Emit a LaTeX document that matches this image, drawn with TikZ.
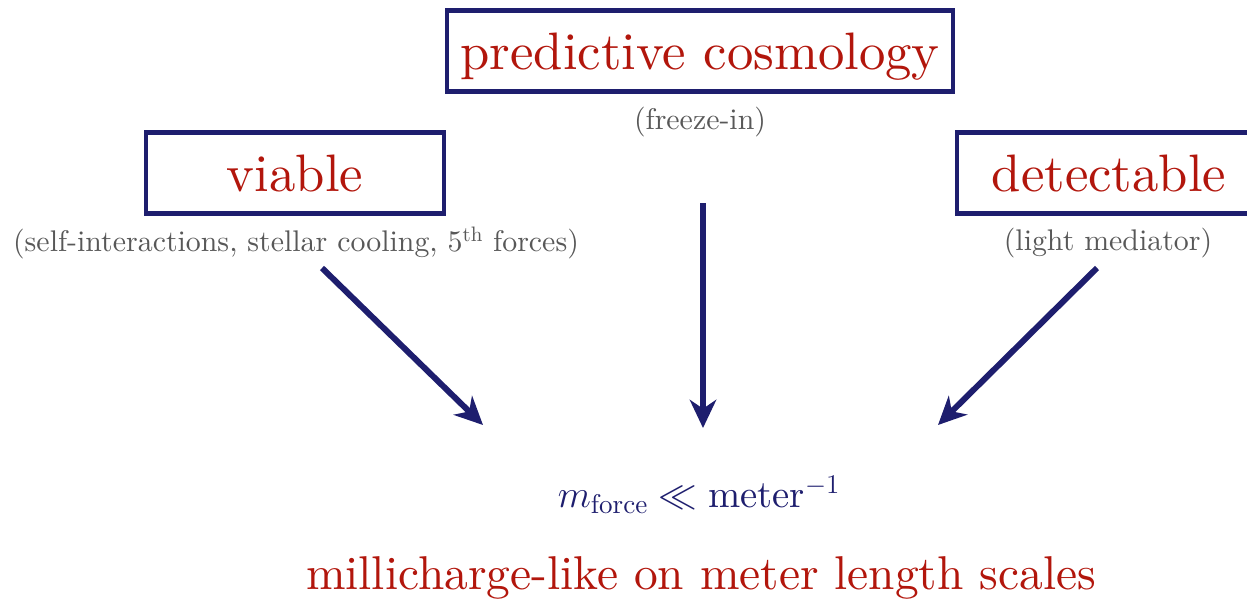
\RequirePackage{fix-cm}
\documentclass[tikz,border=0pt]{standalone}
\usepackage{amsmath,amssymb}
\usepackage{fontspec}
\setmainfont{lmroman10-regular.otf}
\usetikzlibrary{positioning,arrows.meta}
\definecolor{BoxNavy}{RGB}{30,30,110}
\definecolor{TitleRed}{RGB}{178,22,12}
\definecolor{NoteGray}{RGB}{88,88,88}

\begin{document}
\begin{tikzpicture}[
x=0.02cm,y=-0.02cm,
box/.style={draw=BoxNavy,line width=2.3pt,text=TitleRed,minimum height=1.62cm,font=\fontsize{30}{34}\selectfont,text height=23pt,text depth=2.4pt,inner sep=0pt},
note/.style={text=NoteGray,font=\fontsize{17}{20}\selectfont,inner sep=0pt},
arr/.style={draw=BoxNavy,line width=3.4pt,-{Stealth[length=16pt,width=15pt,inset=5pt]}}
]
\useasboundingbox (0,0) rectangle (1247,605);
\node[box,minimum width=10.14cm] (cosmo) at (700,51) {predictive cosmology};
\node[note] (freeze) at (700,122) {(freeze-in)};
\node[box,minimum width=5.98cm] (viable) at (295,173) {viable};
\node[note] (bounds) at (296,243) {(self-interactions, stellar cooling, 5\textsuperscript{th} forces)};
\node[box,minimum width=6.08cm] (detect) at (1109,173) {detectable};
\node[note] (light) at (1108,243) {(light mediator)};
\node[text=BoxNavy,font=\fontsize{22}{26}\selectfont,inner sep=0pt] (mass) at (699,495) {$m_{\text{force}} \ll \text{meter}^{-1}$};
\node[text=TitleRed,font=\fontsize{27}{31}\selectfont,inner sep=0pt] (milli) at (701,578) {millicharge-like on meter length scales};
\coordinate (fromL) at (322,268);
\coordinate (tipL) at (483,425);
\coordinate (fromC) at (703,203);
\coordinate (tipC) at (703,428);
\coordinate (fromR) at (1097,268);
\coordinate (tipR) at (938,425);
\draw[arr] (fromL) -- (tipL);
\draw[arr] (fromC) -- (tipC);
\draw[arr] (fromR) -- (tipR);
\end{tikzpicture}
\end{document}
